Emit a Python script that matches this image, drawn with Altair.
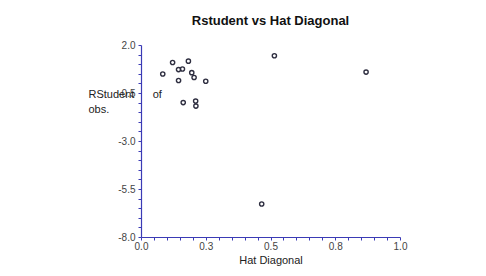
import altair as alt
import pandas as pd

# Data
hat_diagonal = [0.084, 0.122, 0.145, 0.160, 0.183, 0.196, 0.205, 0.145, 0.250,
                0.163, 0.211, 0.212, 0.515, 0.869, 0.466]
rstudent = [0.49, 1.09, 0.72, 0.75, 1.16, 0.56, 0.31, 0.15, 0.11,
            -1.00, -0.92, -1.18, 1.44, 0.59, -6.28]

x_ticks = [0.0, 0.05, 0.1, 0.15, 0.2, 0.25, 0.3, 0.35, 0.4, 0.45, 0.5,
           0.55, 0.6, 0.65, 0.7, 0.75, 0.8, 0.85, 0.9, 0.95, 1.0]
x_major = [0.0, 0.25, 0.5, 0.75, 1.0]
x_major_labels = ["0.0", "0.3", "0.5", "0.8", "1.0"]

y_ticks = [-8.0, -7.5, -7.0, -6.5, -6.0, -5.5, -5.0, -4.5, -4.0, -3.5, -3.0,
           -2.5, -2.0, -1.5, -1.0, -0.5, 0.0, 0.5, 1.0, 1.5, 2.0]
y_major = [-8.0, -5.5, -3.0, -0.5, 2.0]
y_major_labels = ["-8.0", "-5.5", "-3.0", "-0.5", "2.0"]

df = pd.DataFrame({"hat": hat_diagonal, "rstudent": rstudent})


def label_expr(majors, labels):
    parts = []
    for v, lab in zip(majors, labels):
        parts.append(f"abs(datum.value - ({v})) < 1e-6 ? '{lab}'")
    return " : ".join(parts) + " : ''"


AXIS_COLOR = "#3b3bb5"
FONT = "Liberation Sans"
NB = "\u00a0"

chart = alt.Chart(df).mark_point(
    filled=False, size=18, color="#2e2e40", strokeWidth=1.4, opacity=1
).encode(
    x=alt.X(
        "hat:Q",
        scale=alt.Scale(domain=[0, 1], nice=False, zero=False),
        axis=alt.Axis(
            title="Hat Diagonal",
            values=x_ticks,
            labelExpr=label_expr(x_major, x_major_labels),
            grid=False,
            domainColor=AXIS_COLOR,
            domainWidth=1.2,
            tickColor=AXIS_COLOR,
            tickSize=3,
            labelPadding=1,
            labelFont=FONT,
            labelFontSize=10,
            labelColor="#444444",
            labelFlush=False,
            titleFont=FONT,
            titleFontSize=11,
            titleFontWeight="normal",
            titleColor="#222222",
            titlePadding=3,
        ),
    ),
    y=alt.Y(
        "rstudent:Q",
        scale=alt.Scale(domain=[-8, 2], nice=False, zero=False),
        axis=alt.Axis(
            title=["RStudent" + NB * 6 + "of", "obs."],
            values=y_ticks,
            labelExpr=label_expr(y_major, y_major_labels),
            grid=False,
            domainColor=AXIS_COLOR,
            domainWidth=1.2,
            tickColor=AXIS_COLOR,
            tickSize=3,
            labelPadding=3,
            labelFont=FONT,
            labelFontSize=10,
            labelColor="#444444",
            labelFlush=False,
            titleFont=FONT,
            titleFontSize=11,
            titleFontWeight="normal",
            titleColor="#222222",
            titleAngle=0,
            titleAlign="left",
            titleBaseline="alphabetic",
            titleX=-53,
            titleY=52,
            titleLineHeight=15,
        ),
    ),
).properties(
    width=259,
    height=192,
    title=alt.TitleParams(
        "Rstudent vs Hat Diagonal",
        font=FONT,
        fontSize=13,
        fontWeight="bold",
        color="#111111",
        anchor="middle",
        offset=12,
    ),
    autosize=alt.AutoSizeParams(type="none"),
    padding={"left": 141, "top": 45, "right": 86, "bottom": 39},
    background="white",
).configure_view(stroke=None)

chart.save("out.html", embed_options={"renderer": "svg", "actions": False})
